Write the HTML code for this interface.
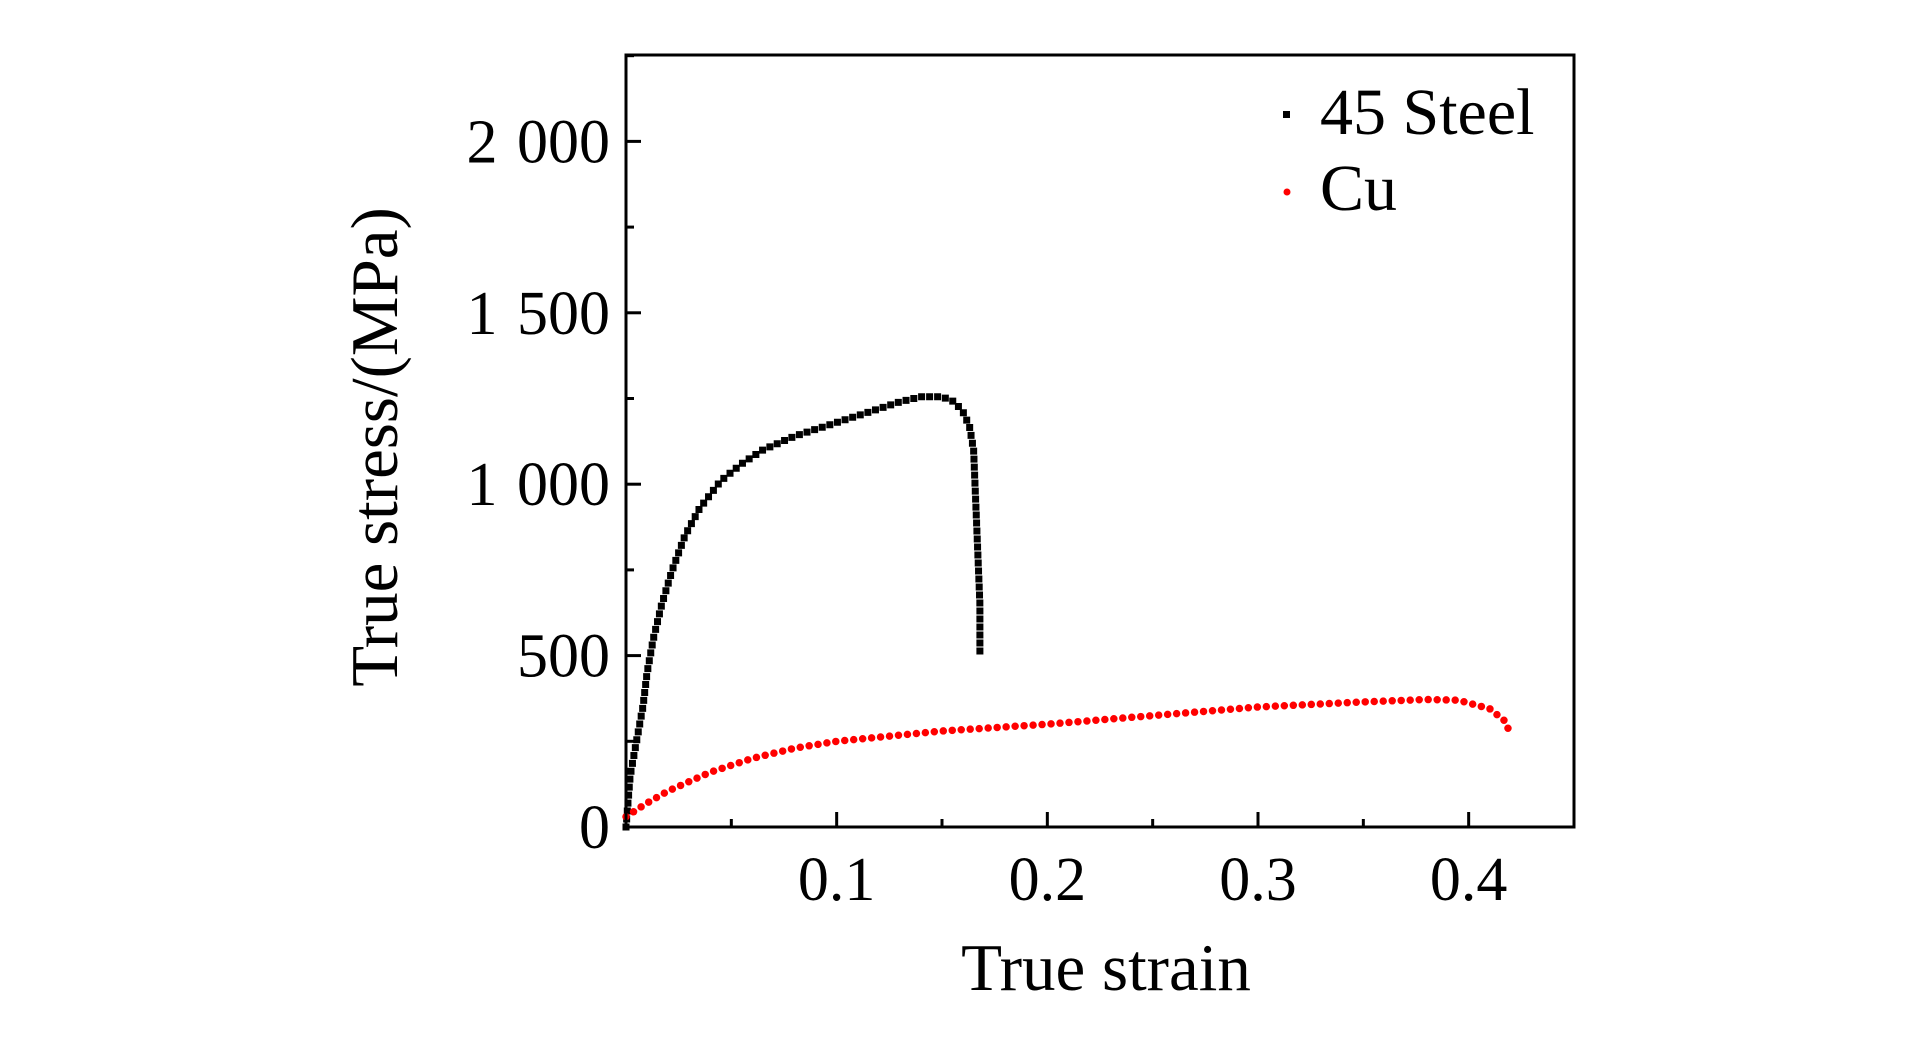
<!DOCTYPE html>
<html><head><meta charset="utf-8"><style>
html,body{margin:0;padding:0;background:#fff;}
svg{display:block;}
text{font-family:"Liberation Serif",serif;fill:#000;}
</style></head><body>
<svg id="chart" width="1923" height="1039" viewBox="0 0 1923 1039" xmlns="http://www.w3.org/2000/svg">
<g id="plot"></g>
</svg>
<script>
const xTicks=[0.1,0.2,0.3,0.4];
const xTickLabels=["0.1","0.2","0.3","0.4"];
const yTicks=[0,500,1000,1500,2000];
const yTickLabels=["0","500","1 000","1 500","2 000"];
const steelStrain=[0,0.002,0.005,0.008,0.010,0.013,0.017,0.022,0.028,0.035,0.045,0.055,0.065,0.080,0.100,0.115,0.130,0.140,0.150,0.156,0.160,0.163,0.165,0.166,0.167,0.168,0.168];
const steelStress=[0,150,250,350,450,550,650,750,850,930,1010,1060,1100,1140,1180,1210,1240,1255,1255,1240,1210,1170,1100,950,800,650,500];
const cuStrain=[0,0.01,0.02,0.04,0.06,0.08,0.10,0.15,0.20,0.25,0.30,0.35,0.38,0.395,0.41,0.417,0.42];
const cuStress=[30,70,105,160,200,230,250,280,300,325,350,365,372,370,345,310,270];

const L=626,R=1574,T=55,B=827,XMAX=0.45,YMAX=2252;
const sx=v=>L+v/XMAX*(R-L);
const sy=v=>B-v/YMAX*(B-T);
const NS="http://www.w3.org/2000/svg";
const svg=document.getElementById('chart');
function mk(tag,attrs,parent){const e=document.createElementNS(NS,tag);for(const k in attrs)e.setAttribute(k,attrs[k]);(parent||svg).appendChild(e);return e;}

function series(xs,ys,color,cap,dash,w,name){
  let d=xs.map((x,i)=>(i?'L':'M')+sx(x).toFixed(1)+' '+sy(ys[i]).toFixed(1)).join(' ');
  const p=mk('path',{d:d,fill:'none',stroke:color,'stroke-width':w,'stroke-linecap':cap,'stroke-dasharray':dash});
  
  
}
series(steelStrain,steelStress,'#000','square','0 8',7,'steel-series');
series(cuStrain,cuStress,'#ff0000','round','0 9',7.5,'cu-series');

const fr=mk('rect',{x:L,y:T,width:R-L,height:B-T,fill:'none',stroke:'#000','stroke-width':3});



for(let v=0.05;v<0.449;v+=0.05){
  const major=Math.abs(v*10-Math.round(v*10))<1e-6;
  const t=mk('line',{x1:sx(v),x2:sx(v),y1:B,y2:B-(major?15:8),stroke:'#000','stroke-width':3});
  
  
}
xTicks.forEach((v,i)=>{
  const t=mk('text',{x:sx(v),y:B+73,'font-size':62,'text-anchor':'middle'});
  t.textContent=xTickLabels[i];
  
  
});
for(let v=250;v<2252;v+=250){
  const major=v%500===0;
  const t=mk('line',{x1:L,x2:L+(major?15:8),y1:sy(v),y2:sy(v),stroke:'#000','stroke-width':3});
  
  
}
yTicks.forEach((v,i)=>{
  const t=mk('text',{x:L-16,y:sy(v)+21,'font-size':62,'text-anchor':'end','word-spacing':4});
  t.textContent=yTickLabels[i];
  
  
});
const xt=mk('text',{x:1106,y:990,'font-size':67,'text-anchor':'middle'});
xt.textContent='True strain';


const yt=mk('text',{x:0,y:0,'font-size':67,'text-anchor':'middle',transform:'translate(397,447) rotate(-90)'});
yt.textContent='True stress/(MPa)';


const lg=mk('g',{});


const m1=mk('rect',{x:1283,y:111,width:7,height:7,fill:'#000'},lg);


const l1=mk('text',{x:1320,y:134,'font-size':66},lg);
l1.textContent='45 Steel';


const m2=mk('circle',{cx:1287,cy:192,r:3.5,fill:'#ff0000'},lg);


const l2=mk('text',{x:1320,y:210,'font-size':66},lg);
l2.textContent='Cu';


</script>
</body></html>
